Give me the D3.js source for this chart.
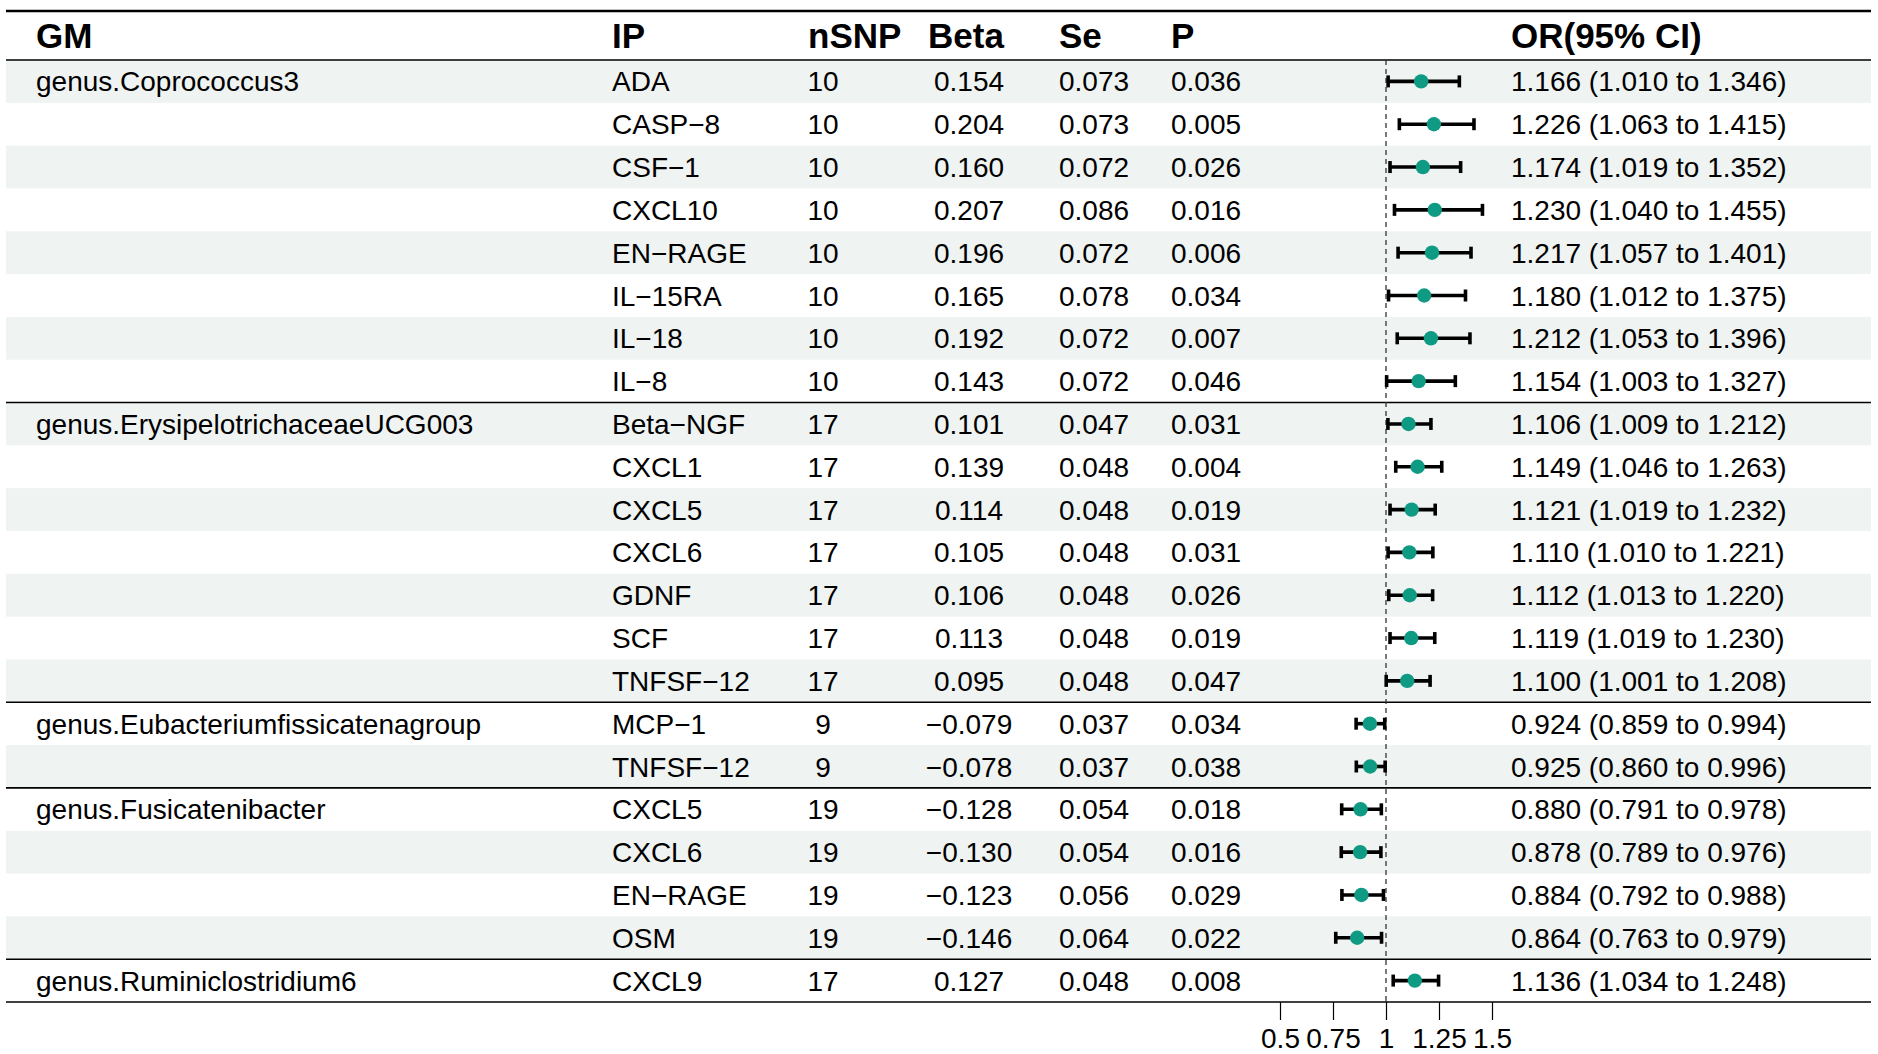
<!DOCTYPE html>
<html>
<head>
<meta charset="utf-8">
<script src="https://cdn.jsdelivr.net/npm/d3@7"></script>
<style>
  html, body { margin: 0; padding: 0; background: #ffffff; }
  svg { display: block; font-family: "Liberation Sans", Arial, Helvetica, sans-serif; }
</style>
</head>
<body>
<svg id="chart" width="1878" height="1054"></svg>
<script>
// ---------------- data ----------------
const groupNames = ["genus.Coprococcus3", "genus.ErysipelotrichaceaeUCG003", "genus.Eubacteriumfissicatenagroup", "genus.Fusicatenibacter", "genus.Ruminiclostridium6"];
const groupSizes = [8, 7, 2, 4, 1];
const ipNames = ["ADA", "CASP-8", "CSF-1", "CXCL10", "EN-RAGE", "IL-15RA", "IL-18", "IL-8",
  "Beta-NGF", "CXCL1", "CXCL5", "CXCL6", "GDNF", "SCF", "TNFSF-12",
  "MCP-1", "TNFSF-12",
  "CXCL5", "CXCL6", "EN-RAGE", "OSM",
  "CXCL9"];
const nSNP = [10, 10, 10, 10, 10, 10, 10, 10, 17, 17, 17, 17, 17, 17, 17, 9, 9, 19, 19, 19, 19, 17];
const betaValues = [0.154, 0.204, 0.160, 0.207, 0.196, 0.165, 0.192, 0.143, 0.101, 0.139, 0.114, 0.105, 0.106, 0.113, 0.095, -0.079, -0.078, -0.128, -0.130, -0.123, -0.146, 0.127];
const seValues = [0.073, 0.073, 0.072, 0.086, 0.072, 0.078, 0.072, 0.072, 0.047, 0.048, 0.048, 0.048, 0.048, 0.048, 0.048, 0.037, 0.037, 0.054, 0.054, 0.056, 0.064, 0.048];
const pValues = [0.036, 0.005, 0.026, 0.016, 0.006, 0.034, 0.007, 0.046, 0.031, 0.004, 0.019, 0.031, 0.026, 0.019, 0.047, 0.034, 0.038, 0.018, 0.016, 0.029, 0.022, 0.008];
const orValues = [1.166, 1.226, 1.174, 1.230, 1.217, 1.180, 1.212, 1.154, 1.106, 1.149, 1.121, 1.110, 1.112, 1.119, 1.100, 0.924, 0.925, 0.880, 0.878, 0.884, 0.864, 1.136];
const orLower = [1.010, 1.063, 1.019, 1.040, 1.057, 1.012, 1.053, 1.003, 1.009, 1.046, 1.019, 1.010, 1.013, 1.019, 1.001, 0.859, 0.860, 0.791, 0.789, 0.792, 0.763, 1.034];
const orUpper = [1.346, 1.415, 1.352, 1.455, 1.401, 1.375, 1.396, 1.327, 1.212, 1.263, 1.232, 1.221, 1.220, 1.230, 1.208, 0.994, 0.996, 0.978, 0.976, 0.988, 0.979, 1.248];
const headers = ["GM", "IP", "nSNP", "Beta", "Se", "P", "OR(95% CI)"];
const tickValues = [0.5, 0.75, 1, 1.25, 1.5];
const tickLabels = ["0.5", "0.75", "1", "1.25", "1.5"];

// ---------------- layout ----------------
const W = 1878, H = 1054;
const left = 6, right = 1871;
const topLine = 11, headerLine = 60, tableBottom = 1002;
const nRows = ipNames.length;
const fmt = d3.format(".3f");
const minus = s => s.replace(/-/g, "\u2212");

const svg = d3.select("#chart");

const y = d3.scaleBand().domain(d3.range(nRows)).range([headerLine, tableBottom]).padding(0);
const x = d3.scaleLinear().domain([0.5, 1.5]).range([1280, 1492]);

// group per row
const rowGroup = [];
groupSizes.forEach((n, g) => { for (let i = 0; i < n; i++) rowGroup.push({ g, first: i === 0 }); });

const rows = d3.range(nRows).map(i => ({
  i,
  gm: rowGroup[i].first ? groupNames[rowGroup[i].g] : "",
  ip: minus(ipNames[i]),
  nsnp: String(nSNP[i]),
  beta: fmt(betaValues[i]),
  se: fmt(seValues[i]),
  p: fmt(pValues[i]),
  or: orValues[i], lo: orLower[i], hi: orUpper[i],
  ci: `${fmt(orValues[i])} (${fmt(orLower[i])} to ${fmt(orUpper[i])})`
}));

// background bands
svg.append("g").selectAll("rect").data(rows.filter(r => r.i % 2 === 0)).join("rect")
  .attr("x", left).attr("width", right - left)
  .attr("y", r => y(r.i)).attr("height", y.bandwidth())
  .attr("fill", "#eff3f2");

// header text
const headerX = [36, 612, 808, 928, 1059, 1171, 1511];
svg.append("g").selectAll("text").data(headers).join("text")
  .attr("x", (d, k) => headerX[k]).attr("y", 48)
  .attr("font-size", 35).attr("font-weight", "bold").attr("fill", "#000")
  .text(d => d);

// body text columns
const columns = [
  { key: "gm", x: 36, anchor: "start" },
  { key: "ip", x: 612, anchor: "start" },
  { key: "nsnp", x: 823, anchor: "middle" },
  { key: "beta", x: 969, anchor: "middle" },
  { key: "se", x: 1059, anchor: "start" },
  { key: "p", x: 1171, anchor: "start" },
  { key: "ci", x: 1511, anchor: "start" }
];
const body = svg.append("g").attr("font-size", 28).attr("fill", "#000");
columns.forEach(c => {
  body.append("g").selectAll("text").data(rows).join("text")
    .attr("x", c.x).attr("y", r => y(r.i) + y.bandwidth() / 2 + 10)
    .attr("text-anchor", c.anchor)
    .text(r => r[c.key]);
});

// horizontal rules
svg.append("line").attr("x1", left).attr("x2", right).attr("y1", topLine).attr("y2", topLine)
  .attr("stroke", "#000").attr("stroke-width", 2.6);
svg.append("line").attr("x1", left).attr("x2", right).attr("y1", headerLine).attr("y2", headerLine)
  .attr("stroke", "#000").attr("stroke-width", 1.6);
let acc = 0;
const sepRows = [];
groupSizes.forEach(n => { acc += n; sepRows.push(acc); });
svg.append("g").selectAll("line").data(sepRows).join("line")
  .attr("x1", left).attr("x2", right)
  .attr("y1", k => k < nRows ? y(k) : tableBottom).attr("y2", k => k < nRows ? y(k) : tableBottom)
  .attr("stroke", "#000").attr("stroke-width", 1.6);

// reference line
svg.append("line").attr("x1", x(1)).attr("x2", x(1)).attr("y1", headerLine).attr("y2", tableBottom)
  .attr("stroke", "#333").attr("stroke-width", 1.3).attr("stroke-dasharray", "5,4");

// CI bars
const ci = svg.append("g").attr("stroke", "#000").attr("stroke-width", 3.6);
ci.selectAll("line.h").data(rows).join("line").attr("class", "h")
  .attr("x1", r => x(r.lo)).attr("x2", r => x(r.hi))
  .attr("y1", r => y(r.i) + y.bandwidth() / 2).attr("y2", r => y(r.i) + y.bandwidth() / 2);
ci.selectAll("line.l").data(rows).join("line").attr("class", "l")
  .attr("x1", r => x(r.lo)).attr("x2", r => x(r.lo))
  .attr("y1", r => y(r.i) + y.bandwidth() / 2 - 6).attr("y2", r => y(r.i) + y.bandwidth() / 2 + 6);
ci.selectAll("line.r").data(rows).join("line").attr("class", "r")
  .attr("x1", r => x(r.hi)).attr("x2", r => x(r.hi))
  .attr("y1", r => y(r.i) + y.bandwidth() / 2 - 6).attr("y2", r => y(r.i) + y.bandwidth() / 2 + 6);

// points
svg.append("g").selectAll("circle").data(rows).join("circle")
  .attr("cx", r => x(r.or)).attr("cy", r => y(r.i) + y.bandwidth() / 2)
  .attr("r", 7.2).attr("fill", "#0f9a84");

// x axis
const axis = d3.axisBottom(x).tickValues(tickValues)
  .tickFormat((d, k) => tickLabels[k]).tickSize(18).tickPadding(8);
const ax = svg.append("g").attr("transform", `translate(0,${tableBottom})`).call(axis);
ax.select(".domain").remove();
ax.selectAll(".tick line").attr("stroke", "#000").attr("stroke-width", 1.2);
ax.selectAll(".tick text").attr("font-size", 28).attr("fill", "#000")
  .attr("font-family", "'Liberation Sans', Arial, sans-serif");
</script>
</body>
</html>
